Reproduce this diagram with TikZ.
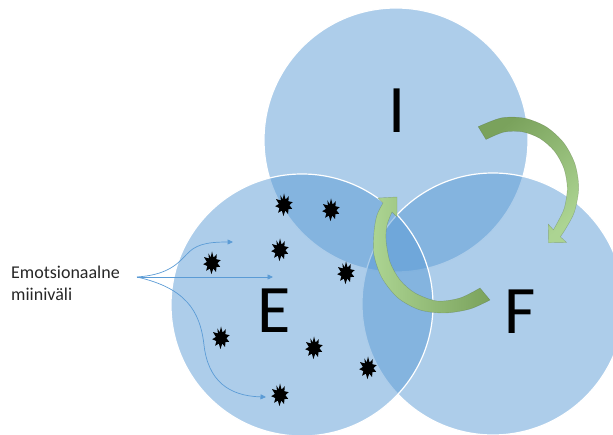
\documentclass[tikz,border=0pt]{standalone}
\usepackage{fontspec}
\setmainfont{Carlito}
\usetikzlibrary{arrows.meta}

\definecolor{vennblue}{RGB}{91,155,213}
\definecolor{turndark}{RGB}{122,162,92}
\definecolor{turnlight}{RGB}{172,212,146}
\definecolor{linkblue}{RGB}{91,155,213}

\begin{document}
\begin{tikzpicture}[x=1pt,y=-1pt,
  venn/.style={fill=vennblue, fill opacity=0.5, draw=white, line width=1.2pt},
  letter/.style={font=\fontsize{68}{68}\selectfont, text=black, inner sep=0pt},
  turn/.style={draw=turndark!60!black, draw opacity=0.35, line width=0.4pt},
  link/.style={draw=linkblue, line width=0.7pt, -{Triangle[length=5.5pt,width=5pt]}},
  burst/.pic={
    \fill[black] (0,-11.5) -- (1.6,-5.4) -- (4.8,-8.8) -- (4.4,-3.8) -- (8.6,-2.8)
      -- (5.4,0.2) -- (8.2,3.8) -- (4.5,4.1) -- (4.0,9.0) -- (1.3,5.6)
      -- (-0.6,11.2) -- (-2.1,5.6) -- (-5.9,7.8) -- (-4.6,3.1) -- (-8.8,1.2)
      -- (-5.1,-1.0) -- (-8.0,-5.9) -- (-3.1,-4.6) -- (-3.6,-9.6) -- (-1.3,-5.6) -- cycle;
  }
]
\useasboundingbox (0,0) rectangle (613,435);

% three overlapping sets
\draw[venn] (396,140) circle[radius=132];
\draw[venn] (493,304) circle[radius=131];
\draw[venn] (302,305) circle[radius=131];

% set letters
\node[letter] (I) at (397,111) {I};
\node[letter] (E) at (274,311) {E};
\node[letter] (F) at (520,312) {F};

% curved arrow from I to F
\path[turn, top color=turndark, bottom color=turnlight, shading angle=40]
  plot[smooth] coordinates {(478.2,126.7) (501.4,117.9) (524.6,118.2) (546.3,126.9)
    (563.8,142.9) (575.0,164.1) (578.7,188) (574.5,211.7) (566.3,227.7) (560.4,236.8)}
  -- (566.6,242.5) -- (548.5,242.8) -- (548.2,224.1) -- (553.4,229.8)
  -- plot[smooth] coordinates {(553.4,229.8) (557.9,221.7) (564.3,208.1) (567.3,188)
    (563.8,168.1) (554.2,150.9) (539.7,138.3) (522.2,131.8) (503.9,132.1) (486.0,139.5)}
  -- cycle;

% curved arrow from F back to the centre
\path[turn, left color=turnlight, right color=turndark]
  plot[smooth] coordinates {(490,300) (470,309) (445,313) (420,310) (398,298)
    (382,278) (374,255) (374,232) (377,215) (383,203)}
  -- (378,198) -- (397,197) -- (397,217) -- (392,212)
  -- plot[smooth] coordinates {(392,212) (387,225) (386,240) (390,262) (400,280)
    (415,293) (437,301) (460,298) (480,288)}
  -- cycle;

% emotional mines
\pic at (284,205) {burst};
\pic at (331,210) {burst};
\pic at (280,250) {burst};
\pic at (212,263) {burst};
\pic at (346,273) {burst};
\pic at (221,338) {burst};
\pic at (314,348) {burst};
\pic at (368,368) {burst};
\pic at (280,395) {burst};

% label and its pointers
\node[font=\fontsize{18}{22}\selectfont, align=left, anchor=north west,
      inner sep=0pt, text=black!85] (lbl) at (11,266) {Emotsionaalne\\miiniväli};
\coordinate (src) at (137,277);
\coordinate (t1) at (233,242);
\coordinate (t2) at (273,277);
\coordinate (t3) at (266,397);
\draw[link] (src) .. controls (165,275) and (176,266) .. (186,255)
  .. controls (195,245) and (205,242) .. (t1);
\draw[link] (src) -- (t2);
\draw[link] (src) .. controls (185,288) and (200,310) .. (204,345)
  .. controls (208,380) and (228,396) .. (t3);
\end{tikzpicture}
\end{document}
